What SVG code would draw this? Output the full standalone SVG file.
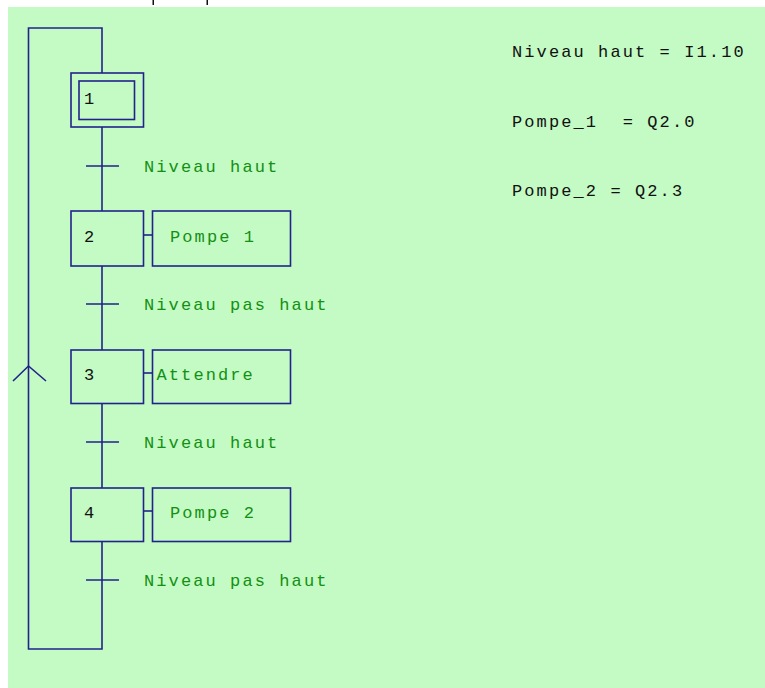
<svg xmlns="http://www.w3.org/2000/svg" width="765" height="688" viewBox="0 0 765 688">
<style>
.ln{stroke:#22228c;stroke-width:1.6;fill:none}
.bx{stroke:#22228c;stroke-width:1.6;fill:none}
.num{font-family:"Liberation Mono",monospace;font-size:17px;fill:#111}
.lbl{font-family:"Liberation Mono",monospace;font-size:17px;letter-spacing:2.1px;fill:#139013}
.def{font-family:"Liberation Mono",monospace;font-size:17px;letter-spacing:2.1px;fill:#111}
</style>
<rect x="0" y="0" width="765" height="688" fill="#ffffff"/>
<rect x="8" y="7" width="757" height="681" fill="#c4fac4"/>
<rect x="152.5" y="0" width="1.5" height="5" fill="#111"/>
<rect x="206.5" y="0" width="1.5" height="5" fill="#111"/>
<g id="connectors">
<polyline class="ln" points="102,73 102,28 28.5,28 28.5,649 102,649 102,541"/>
<polyline class="ln" points="13,381 28.5,366 46,381"/>
<line class="ln" x1="102" y1="127" x2="102" y2="211"/>
<line class="ln" x1="102" y1="266" x2="102" y2="350"/>
<line class="ln" x1="102" y1="403" x2="102" y2="488"/>
<line class="ln" x1="86" y1="166" x2="119" y2="166"/>
<line class="ln" x1="86" y1="304" x2="119" y2="304"/>
<line class="ln" x1="86" y1="442" x2="119" y2="442"/>
<line class="ln" x1="86" y1="580" x2="119" y2="580"/>
<line class="ln" x1="144" y1="235" x2="152" y2="235"/>
<line class="ln" x1="144" y1="373" x2="152" y2="373"/>
<line class="ln" x1="144" y1="511" x2="152" y2="511"/>
<text class="lbl" x="144" y="172">Niveau haut</text>
<text class="lbl" x="144" y="310">Niveau pas haut</text>
<text class="lbl" x="144" y="448">Niveau haut</text>
<text class="lbl" x="144" y="586">Niveau pas haut</text>
</g>
<g id="step1">
<rect class="bx" x="71" y="73" width="72.5" height="54"/>
<rect class="bx" x="79" y="81" width="55.5" height="38.5"/>
<text class="num" x="84" y="104">1</text>
</g>
<g id="step2">
<rect class="bx" x="71" y="211" width="72.5" height="55"/>
<text class="num" x="84" y="242">2</text>
</g>
<g id="action2">
<rect class="bx" x="152.5" y="211" width="138" height="55"/>
<text class="lbl" x="170" y="242">Pompe 1</text>
</g>
<g id="step3">
<rect class="bx" x="71" y="350" width="72.5" height="53.5"/>
<text class="num" x="84" y="380">3</text>
</g>
<g id="action3">
<rect class="bx" x="152.5" y="350" width="138" height="53.5"/>
<text class="lbl" x="156.5" y="380">Attendre</text>
</g>
<g id="step4">
<rect class="bx" x="71" y="488" width="72.5" height="53.5"/>
<text class="num" x="84" y="518">4</text>
</g>
<g id="action4">
<rect class="bx" x="152.5" y="488" width="138" height="53.5"/>
<text class="lbl" x="170" y="518">Pompe 2</text>
</g>
<g id="definitions">
<text class="def" x="512" y="57" xml:space="preserve">Niveau haut = I1.10</text>
<text class="def" x="512" y="127" xml:space="preserve">Pompe_1  = Q2.0</text>
<text class="def" x="512" y="196" xml:space="preserve">Pompe_2 = Q2.3</text>
</g>
</svg>
